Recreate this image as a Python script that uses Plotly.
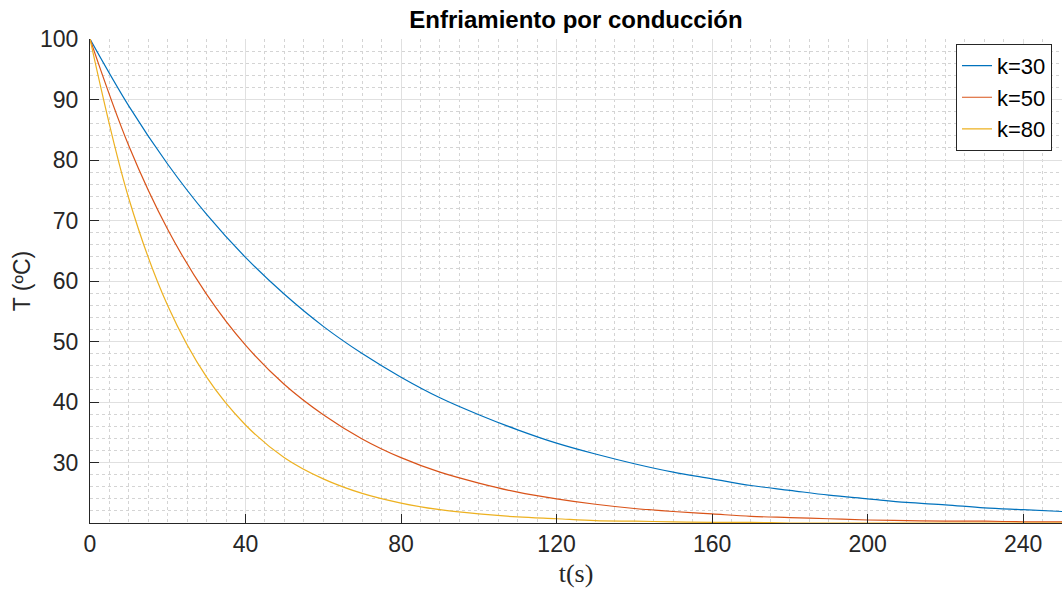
import plotly.graph_objects as go

t = [0, 10, 20, 30, 40, 50, 60, 70, 80, 90, 100, 110, 120, 130, 140, 150,
     160, 170, 180, 190, 200, 210, 220, 230, 240, 250]

T_k30 = [100, 88.9, 79.3, 71.0, 63.9, 57.8, 52.5, 48.0, 44.1, 40.7, 37.9, 35.4, 33.2,
         31.4, 29.8, 28.4, 27.3, 26.2, 25.4, 24.6, 24.0, 23.4, 23.0, 22.5, 22.2, 21.9]
T_k50 = [100, 82.3, 68.5, 57.8, 49.4, 42.9, 37.9, 33.9, 30.8, 28.4, 26.6, 25.1, 24.0,
         23.1, 22.4, 21.9, 21.5, 21.1, 20.9, 20.7, 20.5, 20.4, 20.3, 20.3, 20.2, 20.2]
T_k80 = [100, 73.6, 55.9, 44.1, 36.2, 30.8, 27.3, 24.9, 23.3, 22.2, 21.5, 21.0, 20.7,
         20.4, 20.3, 20.2, 20.1, 20.1, 20.0, 20.0, 20.0, 20.0, 20.0, 20.0, 20.0, 20.0]

series = [("k=30", T_k30, "#0072BD"), ("k=50", T_k50, "#D95319"), ("k=80", T_k80, "#EDB120")]

x_ticks = [0, 40, 80, 120, 160, 200, 240]
y_ticks = [30, 40, 50, 60, 70, 80, 90, 100]

fig = go.Figure()
for name, vals, col in series:
    fig.add_trace(go.Scatter(x=t, y=vals, mode="lines", name=name,
                             line=dict(color=col, width=1.2, shape="spline", smoothing=1.0)))

SANS = "Liberation Sans, Arial, sans-serif"
axis_font = dict(family=SANS, size=23, color="#262626")

fig.update_layout(
    width=1062, height=591,
    margin=dict(l=90, r=0, t=39, b=68),
    paper_bgcolor="white", plot_bgcolor="white",
    title=dict(text="<b>Enfriamiento por conducción</b>", x=(90 + 1062) / 2 / 1062, xanchor="center",
               y=1 - 20 / 591, yanchor="middle",
               font=dict(family=SANS, size=24, color="black")),
    legend=dict(x=0.9897, xanchor="right", y=0.99, yanchor="top",
                bgcolor="white", bordercolor="#262626", borderwidth=1,
                font=dict(family=SANS, size=22, color="black"),
                tracegroupgap=0),
    showlegend=True,
)

fig.update_xaxes(
    range=[0, 250], tickvals=x_ticks, ticktext=[str(v) for v in x_ticks],
    showline=True, linecolor="#262626", linewidth=1.3, mirror=False,
    ticks="inside", ticklen=9, tickcolor="#262626", tickwidth=1.3,
    tickfont=axis_font,
    showgrid=True, gridcolor="#e0e0e0", gridwidth=1,
    minor=dict(dtick=5, showgrid=True, gridcolor="#d4d4d4", griddash="dot", gridwidth=1),
    zeroline=False,
    title=dict(text="t(s)", font=dict(family="Liberation Serif, Times New Roman, serif", size=26, color="#262626"),
               standoff=8),
)
fig.update_yaxes(
    range=[20, 100], tickvals=y_ticks, ticktext=[str(v) for v in y_ticks],
    showline=True, linecolor="#262626", linewidth=1.3, mirror=False,
    ticks="inside", ticklen=9, tickcolor="#262626", tickwidth=1.3,
    tickfont=axis_font, ticklabelstandoff=6,
    showgrid=True, gridcolor="#e0e0e0", gridwidth=1,
    minor=dict(dtick=2, showgrid=True, gridcolor="#d4d4d4", griddash="dot", gridwidth=1),
    zeroline=False,
    title=dict(text="T (ºC)", font=dict(family=SANS, size=23, color="#262626"), standoff=2),
)

fig.write_html("out.html")
